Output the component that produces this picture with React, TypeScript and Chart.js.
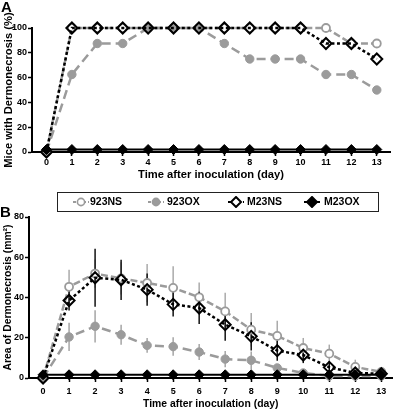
import React, { useEffect, useRef } from "react";
import { Chart, registerables } from "chart.js";

Chart.register(...registerables);

// ---------- data ----------
const days = [0, 1, 2, 3, 4, 5, 6, 7, 8, 9, 10, 11, 12, 13];
const ticksA = [0, 20, 40, 60, 80, 100];
const ticksB = [0, 20, 40, 60, 80];
const seriesNames = ["923NS", "923OX", "M23NS", "M23OX"];

// Panel A: mice with dermonecrosis (%)
const pct923NS = [0, 100, 100, 100, 100, 100, 100, 100, 100, 100, 100, 100, 87.5, 87.5];
const pct923OX = [0, 62.5, 87.5, 87.5, 100, 100, 100, 87.5, 75, 75, 75, 62.5, 62.5, 50];
const pctM23NS = [0, 100, 100, 100, 100, 100, 100, 100, 100, 100, 100, 87.5, 87.5, 75];
const pctM23OX = [2, 2, 2, 2, 2, 2, 2, 2, 2, 2, 2, 2, 2, 2];

// Panel B: area of dermonecrosis (mm2) with error
const area923NS = [0, 45.3, 51.9, 49.5, 47.2, 44.8, 40.1, 33.1, 24, 20.9, 14.9, 12.1, 5.5, 3];
const err923NS = [0, 8.5, 7, 8, 9.5, 10.7, 7.3, 9.2, 8.3, 7.6, 5, 4.5, 3.6, 1];
const area923OX = [0, 20.4, 25.7, 21.5, 16.2, 15.6, 12.9, 9.4, 8.8, 5, 2.5, 1, 1, 1];
const err923OX = [0, 7, 8, 5, 3.7, 4.6, 4, 4, 4.4, 2, 1, 0.5, 0.5, 0.5];
const areaM23NS = [0, 38.5, 49.8, 48.8, 43.9, 36.6, 34.8, 26.5, 20.7, 13.6, 11.4, 5.3, 2.5, 2.1];
const errM23NS = [0, 5, 14.4, 10, 8, 6, 8, 8, 7, 5, 4, 3, 1, 0.5];
const areaM23OX = [1.6, 1.6, 1.6, 1.6, 1.6, 1.6, 1.6, 1.6, 1.6, 1.6, 1.6, 1.6, 1.6, 1.6];

// ---------- styles ----------
const FONT = "'Liberation Sans', Arial, Helvetica, sans-serif";
const GRAY = "#9b9b9b";

const styles = [
  { color: GRAY, dash: [7, 3], width: 2.5, point: "circle", fill: "#ffffff", pr: 4, pbw: 1.8, err: "#aaaaaa" },
  { color: GRAY, dash: [9, 5], width: 2.5, point: "circle", fill: GRAY, pr: 4.2, pbw: 1, err: "#a5a5a5" },
  { color: "#000000", dash: [3, 2.5], width: 2.5, point: "rectRot", fill: "rgba(255,255,255,0)", pr: 5.5, pbw: 2, err: "#111111" },
  { color: "#000000", dash: [], width: 2, point: "rectRot", fill: "#000000", pr: 5, pbw: 1, err: "#000000" },
];

function makeDatasets(values: number[][], errors?: (number[] | null)[]) {
  return values.map((vals, i) => {
    const s = styles[i];
    return {
      label: seriesNames[i],
      data: days.map((d, j) => ({ x: d, y: vals[j] })),
      borderColor: s.color,
      borderWidth: s.width,
      borderDash: s.dash,
      pointStyle: s.point,
      pointRadius: s.pr,
      pointBorderWidth: s.pbw,
      pointBorderColor: s.color,
      pointBackgroundColor: s.fill,
      tension: 0,
      clip: false,
      order: 3 - i,
      errorBars: errors ? errors[i] : null,
      errorColor: s.err,
    } as any;
  });
}

const errorBarPlugin = {
  id: "errorBars",
  beforeDatasetsDraw(chart: any) {
    const ctx = chart.ctx;
    const xs = chart.scales.x;
    const ys = chart.scales.y;
    chart.data.datasets.forEach((ds: any) => {
      if (!ds.errorBars) return;
      ctx.save();
      ctx.strokeStyle = ds.errorColor;
      ctx.lineWidth = 1.5;
      ds.data.forEach((p: any, j: number) => {
        const e = ds.errorBars[j];
        if (!e) return;
        const x = xs.getPixelForValue(p.x);
        const lo = Math.max(ys.min, p.y - e);
        const y1 = ys.getPixelForValue(p.y + e);
        const y2 = ys.getPixelForValue(lo);
        ctx.beginPath();
        ctx.moveTo(x, y1);
        ctx.lineTo(x, y2);
        ctx.stroke();
      });
      ctx.restore();
    });
  },
};

function axisOptions(cfg: any) {
  const tickFont = { family: FONT, size: 9, weight: "bold" as const };
  const titleFont = { family: FONT, size: cfg.titleSize, weight: "bold" as const };
  return {
    x: {
      type: "linear",
      min: cfg.xMin,
      max: cfg.xMax,
      afterFit: (s: any) => {
        s.height = cfg.xHeight;
      },
      afterBuildTicks: (s: any) => {
        s.ticks = days.map((v) => ({ value: v }));
      },
      grid: { drawOnChartArea: false, drawTicks: true, tickLength: 4, tickColor: "#000", tickWidth: 1.5 },
      border: { color: "#000", width: 2 },
      ticks: { font: tickFont, color: "#000", padding: cfg.xTickPad, maxRotation: 0, autoSkip: false },
      title: {
        display: true,
        text: "Time after inoculation (day)",
        font: titleFont,
        color: "#000",
        padding: { top: 0, bottom: cfg.xTitlePad },
      },
    },
    y: {
      type: "linear",
      min: 0,
      max: cfg.yMax,
      afterFit: (s: any) => {
        s.width = cfg.yWidth;
      },
      afterBuildTicks: (s: any) => {
        s.ticks = cfg.yTicks.map((v: number) => ({ value: v }));
      },
      grid: { drawOnChartArea: false, drawTicks: true, tickLength: 4, tickColor: "#000", tickWidth: 1.5 },
      border: { color: "#000", width: 2 },
      ticks: { font: tickFont, color: "#000", padding: 1 },
      title: {
        display: true,
        text: cfg.yTitle,
        font: titleFont,
        color: "#000",
        padding: { top: 2, bottom: 0 },
      },
    },
  };
}

function useChart(ref: React.RefObject<HTMLCanvasElement>, build: () => any) {
  useEffect(() => {
    if (!ref.current) return;
    const chart = new Chart(ref.current, build());
    return () => chart.destroy();
  }, []);
}

function LegendIcon({ i }: { i: number }) {
  const s = styles[i];
  const dash = s.dash.length ? "3 2" : undefined;
  return (
    <svg width="16" height="12" style={{ display: "block" }}>
      <line x1="0" y1="6" x2="16" y2="6" stroke={s.color} strokeWidth={2} strokeDasharray={dash} />
      {s.point === "circle" ? (
        <circle cx="8" cy="6" r={3.6} fill={s.fill} stroke={s.color} strokeWidth={1.6} />
      ) : (
        <polygon points="8,1 13,6 8,11 3,6" fill={s.fill === "#000000" ? "#000" : "#fff"} stroke="#000" strokeWidth={2} />
      )}
    </svg>
  );
}

export default function App() {
  const refA = useRef<HTMLCanvasElement>(null);
  const refB = useRef<HTMLCanvasElement>(null);

  useChart(refA, () => ({
    type: "line",
    data: { datasets: makeDatasets([pct923NS, pct923OX, pctM23NS, pctM23OX]) },
    options: {
      animation: false,
      responsive: false,
      devicePixelRatio: 1,
      layout: { padding: { left: 0, right: 10, top: 28, bottom: 0 } },
      plugins: { legend: { display: false }, tooltip: { enabled: false } },
      scales: axisOptions({
        xMin: -0.57,
        xMax: 13.52,
        xHeight: 33,
        xTickPad: 1,
        xTitlePad: 3,
        yMax: 100,
        yWidth: 32,
        yTicks: ticksA,
        yTitle: "Mice with Dermonecrosis (%)",
        titleSize: 11.2,
      }),
    },
  }));

  useChart(refB, () => ({
    type: "line",
    data: {
      datasets: makeDatasets(
        [area923NS, area923OX, areaM23NS, areaM23OX],
        [err923NS, err923OX, errM23NS, null]
      ),
    },
    plugins: [errorBarPlugin],
    options: {
      animation: false,
      responsive: false,
      devicePixelRatio: 1,
      layout: { padding: { left: 0, right: 2, top: 12, bottom: 0 } },
      plugins: { legend: { display: false }, tooltip: { enabled: false } },
      scales: axisOptions({
        xMin: -0.54,
        xMax: 13.43,
        xHeight: 32,
        xTickPad: 4,
        xTitlePad: 0,
        yMax: 80,
        yWidth: 29,
        yTicks: ticksB,
        yTitle: "Area of Dermonecrosis (mm²)",
        titleSize: 10.4,
      }),
    },
  }));

  const legendPos = [
    { icon: 73, text: 90 },
    { icon: 148, text: 167 },
    { icon: 228, text: 247 },
    { icon: 304, text: 324 },
  ];

  return (
    <div
      style={{
        position: "fixed",
        left: 0,
        top: 0,
        width: 400,
        height: 410,
        background: "#fff",
        fontFamily: FONT,
        overflow: "hidden",
      }}
    >
      <canvas ref={refA} width={400} height={185} style={{ position: "absolute", left: 0, top: 0 }} />
      <canvas ref={refB} width={400} height={205} style={{ position: "absolute", left: 0, top: 205 }} />
      <div style={{ position: "absolute", left: 1, top: -2, fontSize: 15, fontWeight: "bold", color: "#000" }}>A</div>
      <div style={{ position: "absolute", left: 0, top: 203, fontSize: 15, fontWeight: "bold", color: "#000" }}>B</div>
      <div
        style={{
          position: "absolute",
          left: 57,
          top: 192,
          width: 322,
          height: 20,
          border: "1px solid #222",
          boxSizing: "border-box",
          background: "#fff",
        }}
      />
      {seriesNames.map((n, i) => (
        <React.Fragment key={n}>
          <div style={{ position: "absolute", left: legendPos[i].icon, top: 196 }}>
            <LegendIcon i={i} />
          </div>
          <div
            style={{
              position: "absolute",
              left: legendPos[i].text,
              top: 195,
              fontSize: 10.5,
              fontWeight: "bold",
              lineHeight: "13px",
              color: "#000",
            }}
          >
            {n}
          </div>
        </React.Fragment>
      ))}
    </div>
  );
}
